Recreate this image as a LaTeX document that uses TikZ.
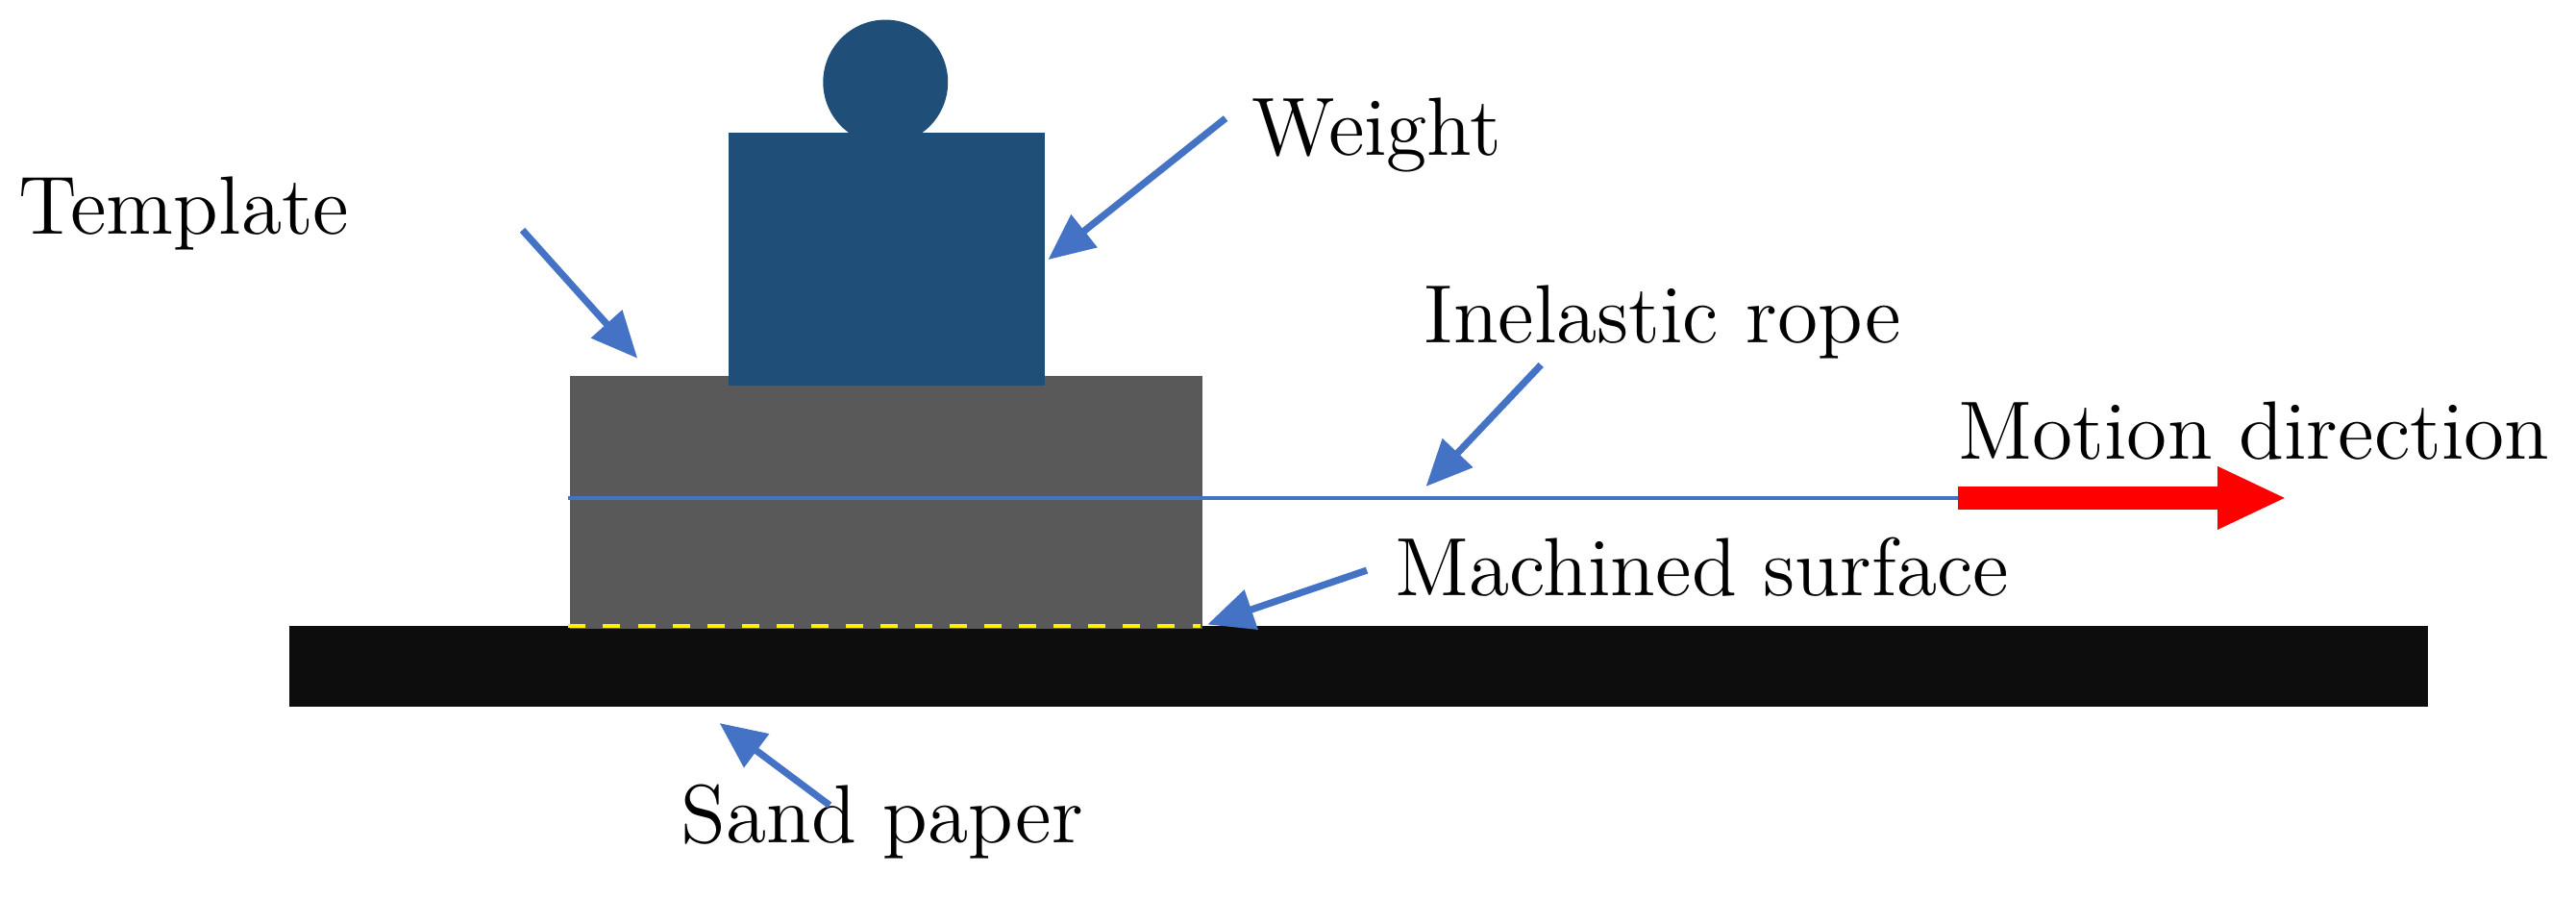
\documentclass[tikz,border=0pt]{standalone}
\usetikzlibrary{arrows.meta}
\definecolor{ptrblue}{RGB}{68,114,196}
\definecolor{wblue}{RGB}{31,78,121}
\definecolor{tgray}{RGB}{89,89,89}
\definecolor{sblack}{RGB}{13,13,13}
\begin{document}
\begin{tikzpicture}[x=0.01cm,y=-0.01cm,
  lbl/.style={font=\fontsize{14.3}{17}\selectfont,inner sep=0pt},
  ptr/.style={draw=ptrblue,line width=1.2pt,-{Triangle[length=8pt,width=7pt]}}]
\useasboundingbox (0,0) rectangle (1568,547);
\fill[sblack] (176,381) rectangle (1478,430);
\node[fill=tgray,minimum width=3.85cm,minimum height=1.54cm,inner sep=0pt,anchor=north west] (tmpl) at (346,228) {};
\fill[wblue] (539,50) circle (38);
\node[fill=wblue,minimum width=1.92cm,minimum height=1.54cm,inner sep=0pt,anchor=north west] (wt) at (443,80) {};
\coordinate (r0) at (346,303);
\coordinate (r1) at (1192,303);
\coordinate (r2) at (1392,303);
\draw[ptrblue,line width=0.8pt] (r0) -- (r1);
\draw[red,line width=4pt,-{Triangle[length=12pt,width=10pt]}] (r1) -- (r2);
\draw[yellow,dashed,line width=0.6pt] (346,381) -- (731,381);
\node[lbl] (t1) at (112,130) {Template};
\node[lbl] (t2) at (838,82) {Weight};
\node[lbl] (t3) at (1012,196) {Inelastic rope};
\node[lbl] (t4) at (1372,262) {Motion direction};
\node[lbl] (t5) at (1036,345) {Machined surface};
\node[lbl] (t6) at (537,500) {Sand paper};
\coordinate (a1) at (318,140); \coordinate (b1) at (388,218);
\coordinate (a2) at (746,72); \coordinate (b2) at (638,158);
\coordinate (a3) at (938,222); \coordinate (b3) at (868,296);
\coordinate (a4) at (832,347); \coordinate (b4) at (735,380);
\coordinate (a5) at (505,490); \coordinate (b5) at (438,440);
\draw[ptr] (a1) -- (b1);
\draw[ptr] (a2) -- (b2);
\draw[ptr] (a3) -- (b3);
\draw[ptr] (a4) -- (b4);
\draw[ptr] (a5) -- (b5);
\end{tikzpicture}
\end{document}
